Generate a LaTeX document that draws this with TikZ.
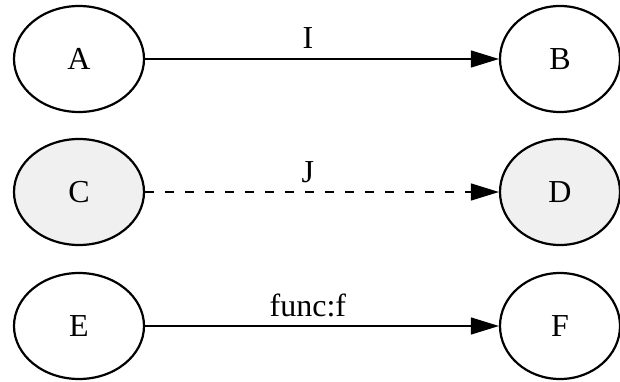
\documentclass[tikz,border=0pt]{standalone}
\usepackage{fontspec}
\setmainfont{Liberation Serif}
\usetikzlibrary{shapes.geometric,arrows.meta}
\begin{document}
\begin{tikzpicture}[x=1pt,y=1pt,
  state/.style={ellipse,draw,line width=2.2pt,inner sep=0pt,
    minimum width=130pt,minimum height=106pt,
    font=\fontsize{32}{38}\selectfont},
  narrow/.style={minimum width=120pt},
  shaded/.style={fill=black!6},
  link/.style={line width=1.3pt,-{Triangle[length=28pt,width=17pt]}},
  lbl/.style={pos=0.46,anchor=base,yshift=10pt,inner sep=0pt,
    font=\fontsize{32}{38}\selectfont}]
\useasboundingbox (0,0) rectangle (620,381);
\node[state] (A) at (79,322) {A};
\node[state,narrow] (B) at (560,322) {B};
\node[state,shaded] (C) at (79,189) {C};
\node[state,narrow,shaded] (D) at (560,189) {D};
\node[state] (E) at (79,55) {E};
\node[state,narrow] (F) at (560,55) {F};
\draw[link] (A) -- node[lbl] {I} (B);
\draw[link,dash pattern=on 9pt off 11pt] (C) -- node[lbl] {J} (D);
\draw[link] (E) -- node[lbl] {func:f} (F);
\end{tikzpicture}
\end{document}
